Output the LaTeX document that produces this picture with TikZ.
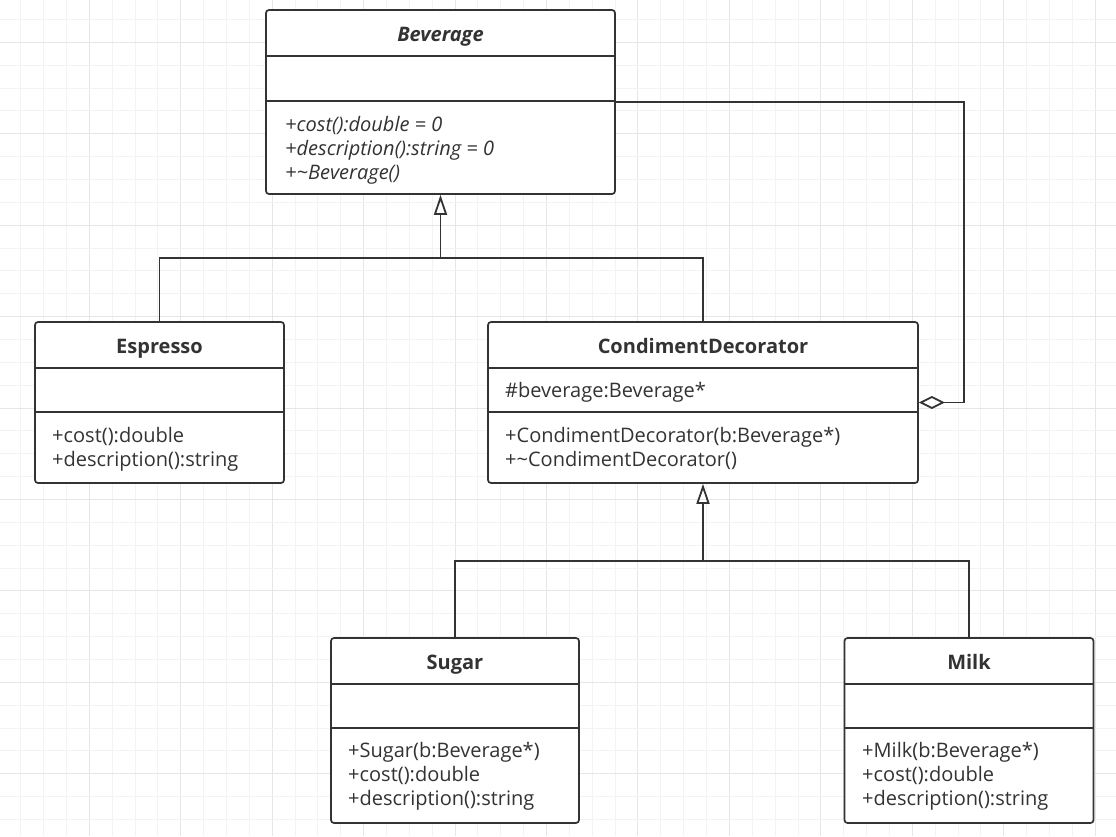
\documentclass[tikz,border=0pt]{standalone}
\usepackage{fontspec}
\setmainfont{Open Sans}
\usetikzlibrary{arrows.meta,positioning}
\definecolor{ink}{HTML}{333333}
\definecolor{gridminor}{HTML}{F3F3F3}
\definecolor{gridmajor}{HTML}{E6E6E6}
\tikzstyle{cls} = [rectangle, draw=ink, fill=white, line width=1.7pt,
    rounded corners=3pt, inner sep=0pt]
\tikzstyle{ttl} = [font=\fontsize{20}{24}\selectfont\bfseries, text=ink, inner sep=0pt,
    text height=14pt, text depth=4pt]
\tikzstyle{mem} = [font=\fontsize{20}{24}\selectfont, text=ink, anchor=north west,
    align=left, inner sep=0pt]
\tikzstyle{sep} = [draw=ink, line width=1.7pt]
\tikzstyle{gen} = [draw=ink, line width=1.8pt, -{Triangle[open,length=20pt,width=13pt]}]
\tikzstyle{agg} = [draw=ink, line width=1.8pt, -{Diamond[open,length=26pt,width=13pt]}]

\begin{document}
\begin{tikzpicture}[x=1pt,y=-1pt]
  \useasboundingbox (0,0) rectangle (1116,836);
  \fill[white] (0,0) rectangle (1116,836);
  % background grid
  \foreach \i in {0,...,49} {
    \pgfmathsetmacro\gx{-2.1+22.86*\i}
    \pgfmathtruncatemacro\gm{mod(\i,4)}
    \ifnum\gm=0 \draw[gridmajor,line width=1pt] (\gx,0) -- (\gx,836);
    \else \draw[gridminor,line width=1pt] (\gx,0) -- (\gx,836); \fi
  }
  \foreach \i in {0,...,37} {
    \pgfmathsetmacro\gy{-3.4+22.86*\i}
    \pgfmathtruncatemacro\gm{mod(\i,4)}
    \ifnum\gm=2 \draw[gridmajor,line width=1pt] (0,\gy) -- (1116,\gy);
    \else \draw[gridminor,line width=1pt] (0,\gy) -- (1116,\gy); \fi
  }

  % classes
  \node[cls, minimum width=349pt, minimum height=184pt] (bev)  at (440.5,102)   {};
  \node[cls, minimum width=249pt, minimum height=161pt] (esp)  at (159.5,402.5) {};
  \node[cls, minimum width=430pt, minimum height=161pt] (cd)   at (703,402.5)   {};
  \node[cls, minimum width=248pt, minimum height=185pt] (sug)  at (455,730.5)   {};
  \node[cls, minimum width=249pt, minimum height=185pt] (milk) at (969,730.5)   {};

  \draw[sep] (bev.west |- 0,56) -- (bev.east |- 0,56);
  \draw[sep] (bev.west |- 0,101) -- (bev.east |- 0,101);
  \draw[sep] (esp.west |- 0,368) -- (esp.east |- 0,368);
  \draw[sep] (esp.west |- 0,412) -- (esp.east |- 0,412);
  \draw[sep] (cd.west |- 0,368) -- (cd.east |- 0,368);
  \draw[sep] (cd.west |- 0,412) -- (cd.east |- 0,412);
  \draw[sep] (sug.west |- 0,684) -- (sug.east |- 0,684);
  \draw[sep] (sug.west |- 0,728) -- (sug.east |- 0,728);
  \draw[sep] (milk.west |- 0,684) -- (milk.east |- 0,684);
  \draw[sep] (milk.west |- 0,728) -- (milk.east |- 0,728);

  \node[ttl] (bevT)  at (440.5,36) {\itshape Beverage};
  \node[ttl] (espT)  at (159.5,348) {Espresso};
  \node[ttl] (cdT)   at (703,348) {CondimentDecorator};
  \node[ttl] (sugT)  at (455,664) {Sugar};
  \node[ttl] (milkT) at (969,664) {Milk};

  \node[mem] (bevM) at (285,116) {\itshape +cost():double = 0\\\itshape +description():string = 0\\\itshape +\textasciitilde Beverage()};
  \node[mem] (espM) at (52,427) {+cost():double\\+description():string};
  \node[mem] (cdA)  at (505,382) {\#beverage:Beverage*};
  \node[mem] (cdM)  at (505,427) {+CondimentDecorator(b:Beverage*)\\+\textasciitilde CondimentDecorator()};
  \node[mem] (sugM) at (348,742) {+Sugar(b:Beverage*)\\+cost():double\\+description():string};
  \node[mem] (milkM) at (862,742) {+Milk(b:Beverage*)\\+cost():double\\+description():string};

  % relations
  \coordinate (j1) at (440.5,258);
  \coordinate (j2) at (703,561);
  \coordinate (hook) at (964,402.5);
  \draw[draw=ink, line width=1.8pt] (esp.north) |- (j1) -| (cd.north);
  \draw[gen] (j1) -- (bev.south);
  \draw[draw=ink, line width=1.8pt] (sug.north) |- (j2) -| (milk.north);
  \draw[gen] (j2) -- (cd.south);
  \draw[agg] (bev.east) -| (hook) -- (cd.east);
\end{tikzpicture}
\end{document}
